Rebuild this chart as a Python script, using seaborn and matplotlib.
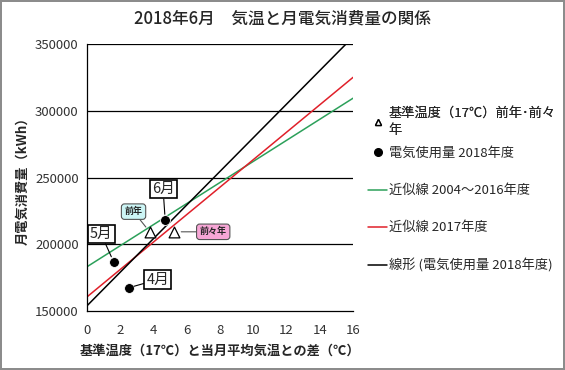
import numpy as np
import pandas as pd
import matplotlib
matplotlib.use("Agg")
import matplotlib.pyplot as plt
from matplotlib.lines import Line2D
import seaborn as sns

sns.set_style("white")
plt.rcParams['font.family'] = ['Noto Sans CJK JP', 'DejaVu Sans']

# 電気使用量 2018年度 (4月, 5月, 6月)
months = ["4月", "5月", "6月"]
diff_2018 = [2.5, 1.6, 4.7]
kwh_2018 = [167500, 187000, 218500]

# 基準温度(17℃) 前年・前々年
base_labels = ["前年", "前々年"]
base_x = [3.8, 5.25]
base_y = [209000, 209500]

# 近似線 (切片, 傾き)
fit_names = ["近似線 2004～2016年度", "近似線 2017年度"]
fit_intercepts = [183300, 160700]
fit_slopes = [7900, 10290]
fit_colors = ["#2ca05a", "#e0202a"]

x_ticks = list(range(0, 17, 2))
y_ticks = [150000, 200000, 250000, 300000, 350000]

df = pd.DataFrame({"month": months, "diff": diff_2018, "kwh": kwh_2018})

fig = plt.figure(figsize=(5.65, 3.7), dpi=100)
fig.patch.set_edgecolor("#8c8c8c")
fig.patch.set_linewidth(1.5)
ax = fig.add_axes([0.154, 0.159, 0.471, 0.721])
ax.set_xlim(0, 16)
ax.set_ylim(150000, 350000)

for yv in y_ticks[1:]:
    ax.axhline(yv, color="black", lw=0.9, zorder=0)

xs = np.array([0, 16])
for b, m, c in zip(fit_intercepts, fit_slopes, fit_colors):
    sns.lineplot(x=xs, y=b + m * xs, color=c, lw=1.1, ax=ax)

sns.regplot(data=df, x="diff", y="kwh", ci=None, scatter=False, truncate=False,
            color="black", line_kws={"lw": 1.1}, ax=ax)

sns.scatterplot(data=df, x="diff", y="kwh", color="black", s=50, ax=ax, zorder=5)
sns.scatterplot(x=base_x, y=base_y, marker="^", facecolor="white", edgecolor="black",
                linewidth=0.9, s=60, ax=ax, zorder=5)

# labels on points
offsets = {"4月": (21, 6), "5月": (-9, 20), "6月": (-1.5, 22)}
for mo, xv, yv in zip(months, diff_2018, kwh_2018):
    ax.annotate(mo, (xv, yv), xytext=offsets[mo], textcoords="offset points",
                ha="center", va="center", fontsize=10.5,
                bbox=dict(boxstyle="square,pad=0.15", fc="white", ec="black", lw=1.2),
                arrowprops=dict(arrowstyle="-", color="black", lw=0.8, shrinkA=0, shrinkB=4),
                zorder=6)

call_style = {"前年": ((-12, 15), "#ccf5f5"), "前々年": ((28, 0), "#f7a6d6")}
for lab, xv, yv in zip(base_labels, base_x, base_y):
    off, fc = call_style[lab]
    ax.annotate(lab, (xv, yv), xytext=off, textcoords="offset points",
                ha="center", va="center", fontsize=6.5, fontweight="bold",
                bbox=dict(boxstyle="round,pad=0.35", fc=fc, ec="#555555", lw=0.8),
                arrowprops=dict(arrowstyle="-", color="#555555", lw=0.8, shrinkA=0, shrinkB=5),
                zorder=6)

ax.set_xticks(x_ticks)
ax.set_yticks(y_ticks)
ax.tick_params(length=0, labelsize=9.5, colors="#333333")
ax.tick_params(axis="x", pad=9)
ax.tick_params(axis="y", pad=6)
for sp in ["top", "right"]:
    ax.spines[sp].set_visible(False)
for sp in ["left", "bottom"]:
    ax.spines[sp].set_color("black")
    ax.spines[sp].set_linewidth(0.9)

ax.set_xlabel("基準温度（17℃）と当月平均気温との差（℃）", fontsize=9.5, fontweight="bold", labelpad=5)
ax.set_ylabel("月電気消費量（kWh）", fontsize=9.5, fontweight="bold", labelpad=4)

fig.suptitle("2018年6月　気温と月電気消費量の関係", x=0.5, y=0.975, fontsize=12, fontweight="medium")

h_first = [Line2D([], [], marker="^", ls="", mfc="white", mec="black", ms=5)]
l_first = ["基準温度（17℃）前年･前々\n年"]
leg1 = fig.legend(h_first, l_first, loc="center left", bbox_to_anchor=(0.652, 1 - 122 / 370),
                  frameon=False, fontsize=9.5, handlelength=1.4, handletextpad=0.15,
                  borderpad=0, borderaxespad=0)
for t in leg1.get_texts():
    t.set_linespacing(1.4)

handles = [
    Line2D([], [], marker="o", ls="", color="black", ms=5.5),
    Line2D([], [], color=fit_colors[0], lw=1.1),
    Line2D([], [], color=fit_colors[1], lw=1.1),
    Line2D([], [], color="black", lw=1.1),
]
labels = ["電気使用量 2018年度", fit_names[0], fit_names[1], "線形 (電気使用量 2018年度)"]
fig.legend(handles, labels, loc="upper left", bbox_to_anchor=(0.652, 1 - 147 / 370), frameon=False,
           fontsize=9.5, labelspacing=1.83, handlelength=1.4, handletextpad=0.15,
           borderpad=0, borderaxespad=0)
fig.add_artist(leg1)

fig.savefig("out.png", dpi=100, edgecolor=fig.get_edgecolor())
